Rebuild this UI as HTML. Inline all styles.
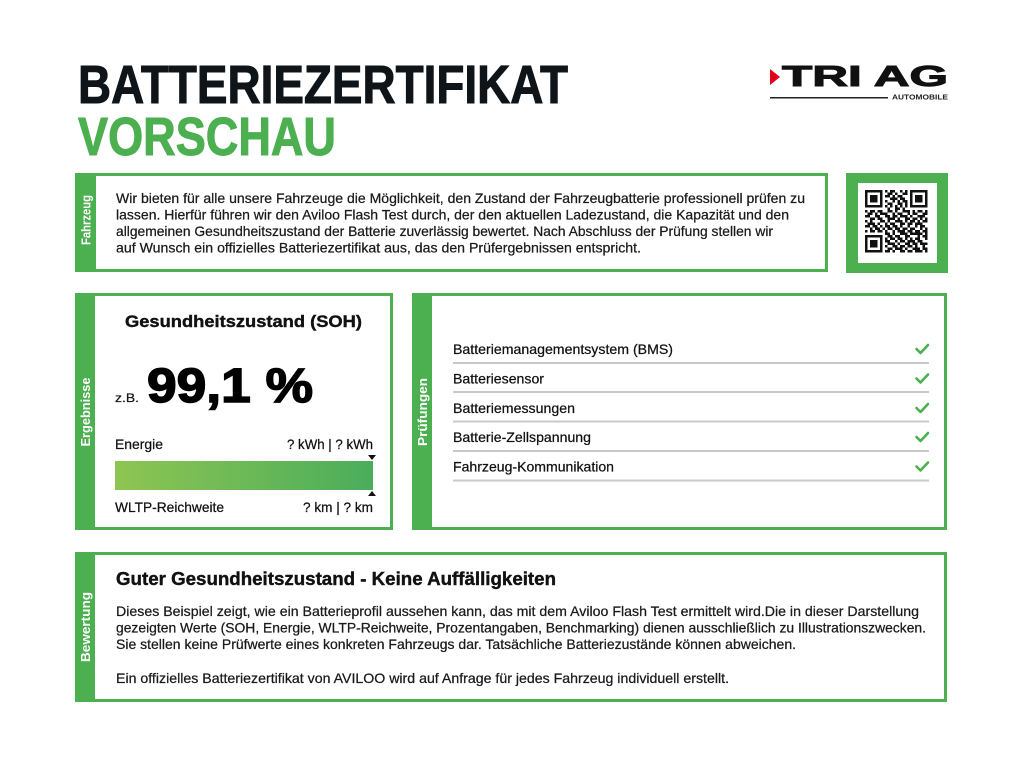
<!DOCTYPE html>
<html><head><meta charset="utf-8"><style>
html,body{margin:0;padding:0;background:#fff;}
svg{display:block;}
text{font-family:"Liberation Sans",Arial,sans-serif;}
</style></head><body>
<svg width="1024" height="768" viewBox="0 0 1024 768" xmlns="http://www.w3.org/2000/svg">
<defs>
<linearGradient id="eg" x1="0" y1="0" x2="1" y2="0">
<stop offset="0" stop-color="#8fc552"/>
<stop offset="1" stop-color="#4aad5c"/>
</linearGradient>
</defs>
<rect width="1024" height="768" fill="#fff"/>

<!-- Title -->
<text x="78" y="103" font-size="54" font-weight="bold" fill="#0f1419" stroke="#0f1419" stroke-width="1" textLength="490" lengthAdjust="spacingAndGlyphs">BATTERIEZERTIFIKAT</text>
<text x="78" y="155" font-size="54" font-weight="bold" fill="#4caf50" stroke="#4caf50" stroke-width="1" textLength="258" lengthAdjust="spacingAndGlyphs">VORSCHAU</text>

<!-- Logo -->
<polygon points="770,69 780,77 770,85" fill="#e3001b"/>
<text x="782" y="86" font-size="29" font-weight="bold" fill="#111" stroke="#111" stroke-width="1" textLength="166" lengthAdjust="spacingAndGlyphs">TRI AG</text>
<rect x="770" y="97" width="118" height="1.5" fill="#222"/>
<text x="892" y="99.5" font-size="7" font-weight="bold" fill="#222" textLength="56" lengthAdjust="spacingAndGlyphs">AUTOMOBILE</text>

<!-- Fahrzeug box -->
<rect x="76.5" y="174.5" width="750" height="96" fill="#fff" stroke="#4caf50" stroke-width="3"/>
<rect x="75" y="173" width="21" height="99" fill="#4caf50"/>
<text transform="translate(90.5,220) rotate(-90)" text-anchor="middle" font-size="13" font-weight="bold" fill="#fff" textLength="50" lengthAdjust="spacingAndGlyphs">Fahrzeug</text>
<g font-size="14" fill="#1a1a1a" stroke="#1a1a1a" stroke-width="0.25">
<text x="116" y="203" textLength="689" lengthAdjust="spacingAndGlyphs">Wir bieten für alle unsere Fahrzeuge die Möglichkeit, den Zustand der Fahrzeugbatterie professionell prüfen zu</text>
<text x="116" y="219.5" textLength="673" lengthAdjust="spacingAndGlyphs">lassen. Hierfür führen wir den Aviloo Flash Test durch, der den aktuellen Ladezustand, die Kapazität und den</text>
<text x="116" y="236" textLength="657" lengthAdjust="spacingAndGlyphs">allgemeinen Gesundheitszustand der Batterie zuverlässig bewertet. Nach Abschluss der Prüfung stellen wir</text>
<text x="116" y="252.5" textLength="525" lengthAdjust="spacingAndGlyphs">auf Wunsch ein offizielles Batteriezertifikat aus, das den Prüfergebnissen entspricht.</text>
</g>

<!-- QR box -->
<rect x="846" y="173" width="102" height="100" fill="#4caf50"/>
<rect x="858" y="183" width="79" height="80" fill="#fff"/>
<g transform="translate(865,190) scale(2.5)" fill="#111">
<rect x="0" y="0" width="7" height="7"/><rect x="1" y="1" width="5" height="5" fill="#fff"/><rect x="2" y="2" width="3" height="3"/>
<rect x="18" y="0" width="7" height="7"/><rect x="19" y="1" width="5" height="5" fill="#fff"/><rect x="20" y="2" width="3" height="3"/>
<rect x="0" y="18" width="7" height="7"/><rect x="1" y="19" width="5" height="5" fill="#fff"/><rect x="2" y="20" width="3" height="3"/>
<path d="M8 0h1v1h-1zM10 0h2v1h-2zM14 0h1v1h-1zM16 0h1v1h-1z
M9 1h2v1h-2zM12 1h1v1h-1zM15 1h2v1h-2z
M8 2h2v1h-2zM11 2h1v1h-1zM13 2h2v1h-2z
M10 3h3v1h-3zM14 3h2v1h-2z
M8 4h1v1h-1zM11 4h1v1h-1zM13 4h1v1h-1zM15 4h2v1h-2z
M9 5h2v1h-2zM13 5h2v1h-2zM16 5h1v1h-1z
M8 6h1v1h-1zM10 6h1v1h-1zM12 6h1v1h-1zM14 6h1v1h-1zM16 6h1v1h-1z
M9 7h1v1h-1zM12 7h2v1h-2zM15 7h1v1h-1z
M0 8h1v1h-1zM2 8h2v1h-2zM5 8h2v1h-2zM9 8h2v1h-2zM12 8h1v1h-1zM15 8h3v1h-3zM19 8h1v1h-1zM21 8h2v1h-2zM24 8h1v1h-1z
M1 9h2v1h-2zM4 9h1v1h-1zM6 9h3v1h-3zM11 9h1v1h-1zM13 9h2v1h-2zM17 9h1v1h-1zM19 9h2v1h-2zM23 9h2v1h-2z
M0 10h2v1h-2zM4 10h2v1h-2zM8 10h2v1h-2zM11 10h2v1h-2zM14 10h3v1h-3zM18 10h1v1h-1zM21 10h3v1h-3z
M2 11h2v1h-2zM5 11h2v1h-2zM9 11h3v1h-3zM13 11h1v1h-1zM16 11h2v1h-2zM19 11h2v1h-2zM22 11h1v1h-1zM24 11h1v1h-1z
M0 12h1v1h-1zM2 12h1v1h-1zM6 12h2v1h-2zM9 12h1v1h-1zM12 12h3v1h-3zM16 12h1v1h-1zM18 12h2v1h-2zM21 12h1v1h-1zM23 12h2v1h-2z
M1 13h3v1h-3zM5 13h1v1h-1zM8 13h1v1h-1zM10 13h2v1h-2zM14 13h2v1h-2zM17 13h2v1h-2zM20 13h3v1h-3z
M0 14h2v1h-2zM3 14h2v1h-2zM6 14h1v1h-1zM8 14h2v1h-2zM11 14h2v1h-2zM14 14h1v1h-1zM17 14h1v1h-1zM20 14h1v1h-1zM22 14h2v1h-2z
M2 15h1v1h-1zM4 15h2v1h-2zM7 15h1v1h-1zM9 15h2v1h-2zM12 15h2v1h-2zM15 15h2v1h-2zM18 15h2v1h-2zM22 15h1v1h-1zM24 15h1v1h-1z
M0 16h1v1h-1zM2 16h2v1h-2zM5 16h2v1h-2zM8 16h1v1h-1zM11 16h1v1h-1zM13 16h3v1h-3zM17 16h2v1h-2zM20 16h2v1h-2zM23 16h2v1h-2z
M8 17h2v1h-2zM11 17h1v1h-1zM14 17h3v1h-3zM18 17h5v1h-5zM24 17h1v1h-1z
M9 18h2v1h-2zM12 18h2v1h-2zM16 18h2v1h-2zM21 18h1v1h-1zM23 18h2v1h-2z
M8 19h1v1h-1zM10 19h2v1h-2zM13 19h2v1h-2zM16 19h1v1h-1zM18 19h1v1h-1zM20 19h2v1h-2zM24 19h1v1h-1z
M8 20h2v1h-2zM12 20h1v1h-1zM14 20h2v1h-2zM17 20h3v1h-3zM21 20h2v1h-2z
M9 21h3v1h-3zM13 21h1v1h-1zM16 21h2v1h-2zM19 21h2v1h-2zM22 21h3v1h-3z
M8 22h1v1h-1zM11 22h2v1h-2zM14 22h2v1h-2zM17 22h2v1h-2zM20 22h1v1h-1zM23 22h1v1h-1z
M9 23h2v1h-2zM12 23h3v1h-3zM16 23h1v1h-1zM19 23h3v1h-3zM23 23h2v1h-2z
M8 24h2v1h-2zM11 24h1v1h-1zM14 24h2v1h-2zM17 24h2v1h-2zM20 24h3v1h-3zM24 24h1v1h-1z"/>
</g>

<!-- Ergebnisse box -->
<rect x="76.5" y="294.5" width="315" height="234" fill="#fff" stroke="#4caf50" stroke-width="3"/>
<rect x="75" y="293" width="20" height="237" fill="#4caf50"/>
<text transform="translate(90,412) rotate(-90)" text-anchor="middle" font-size="13" font-weight="bold" fill="#fff" textLength="69" lengthAdjust="spacingAndGlyphs">Ergebnisse</text>
<text x="125" y="327" font-size="17" font-weight="bold" fill="#111" stroke="#111" stroke-width="0.4" textLength="237" lengthAdjust="spacingAndGlyphs">Gesundheitszustand (SOH)</text>
<text x="115" y="402" font-size="12" fill="#111" stroke="#111" stroke-width="0.2" textLength="24" lengthAdjust="spacingAndGlyphs">z.B.</text>
<text x="147" y="402" font-size="48" font-weight="bold" fill="#000" stroke="#000" stroke-width="1.5" textLength="166" lengthAdjust="spacingAndGlyphs">99,1 %</text>
<g font-size="14" fill="#111" stroke="#111" stroke-width="0.25">
<text x="115" y="449" textLength="48" lengthAdjust="spacingAndGlyphs">Energie</text>
<text x="373" y="449" text-anchor="end" textLength="86" lengthAdjust="spacingAndGlyphs">? kWh | ? kWh</text>
<text x="115" y="512" textLength="109" lengthAdjust="spacingAndGlyphs">WLTP-Reichweite</text>
<text x="373" y="512" text-anchor="end" textLength="70" lengthAdjust="spacingAndGlyphs">? km | ? km</text>
</g>
<rect x="115" y="461" width="258" height="29" fill="url(#eg)"/>
<polygon points="368,455 376,455 372,460" fill="#111"/>
<polygon points="368,496 376,496 372,491" fill="#111"/>

<!-- Prüfungen box -->
<rect x="413.5" y="294.5" width="532" height="234" fill="#fff" stroke="#4caf50" stroke-width="3"/>
<rect x="412" y="293" width="20" height="237" fill="#4caf50"/>
<text transform="translate(427,412) rotate(-90)" text-anchor="middle" font-size="13" font-weight="bold" fill="#fff" textLength="68" lengthAdjust="spacingAndGlyphs">Prüfungen</text>
<g font-size="14" fill="#111" stroke="#111" stroke-width="0.25">
<text x="453" y="354" textLength="220" lengthAdjust="spacingAndGlyphs">Batteriemanagementsystem (BMS)</text>
<text x="453" y="383.5" textLength="91" lengthAdjust="spacingAndGlyphs">Batteriesensor</text>
<text x="453" y="413" textLength="122" lengthAdjust="spacingAndGlyphs">Batteriemessungen</text>
<text x="453" y="442" textLength="138" lengthAdjust="spacingAndGlyphs">Batterie-Zellspannung</text>
<text x="453" y="471.5" textLength="161" lengthAdjust="spacingAndGlyphs">Fahrzeug-Kommunikation</text>
</g>
<g fill="#c9c9c9">
<rect x="453" y="362" width="476" height="2"/>
<rect x="453" y="391" width="476" height="2"/>
<rect x="453" y="420.5" width="476" height="2"/>
<rect x="453" y="450" width="476" height="2"/>
<rect x="453" y="479.5" width="476" height="2"/>
</g>
<g fill="none" stroke="#4caf50" stroke-width="2.6" stroke-linecap="round" stroke-linejoin="round">
<polyline points="916.5,349 920.5,353 928,345"/>
<polyline points="916.5,378.5 920.5,382.5 928,374.5"/>
<polyline points="916.5,408 920.5,412 928,404"/>
<polyline points="916.5,437 920.5,441 928,433"/>
<polyline points="916.5,466.5 920.5,470.5 928,462.5"/>
</g>

<!-- Bewertung box -->
<rect x="76.5" y="553.5" width="869" height="147" fill="#fff" stroke="#4caf50" stroke-width="3"/>
<rect x="75" y="552" width="20" height="150" fill="#4caf50"/>
<text transform="translate(90,627) rotate(-90)" text-anchor="middle" font-size="13" font-weight="bold" fill="#fff" textLength="70" lengthAdjust="spacingAndGlyphs">Bewertung</text>
<text x="116" y="585" font-size="18" font-weight="bold" fill="#111" stroke="#111" stroke-width="0.4" textLength="440" lengthAdjust="spacingAndGlyphs">Guter Gesundheitszustand - Keine Auffälligkeiten</text>
<g font-size="14" fill="#1a1a1a" stroke="#1a1a1a" stroke-width="0.25">
<text x="116" y="616" textLength="803" lengthAdjust="spacingAndGlyphs">Dieses Beispiel zeigt, wie ein Batterieprofil aussehen kann, das mit dem Aviloo Flash Test ermittelt wird.Die in dieser Darstellung</text>
<text x="116" y="632.5" textLength="810" lengthAdjust="spacingAndGlyphs">gezeigten Werte (SOH, Energie, WLTP-Reichweite, Prozentangaben, Benchmarking) dienen ausschließlich zu Illustrationszwecken.</text>
<text x="116" y="649" textLength="680" lengthAdjust="spacingAndGlyphs">Sie stellen keine Prüfwerte eines konkreten Fahrzeugs dar. Tatsächliche Batteriezustände können abweichen.</text>
<text x="116" y="683" textLength="613" lengthAdjust="spacingAndGlyphs">Ein offizielles Batteriezertifikat von AVILOO wird auf Anfrage für jedes Fahrzeug individuell erstellt.</text>
</g>
</svg>
</body></html>
